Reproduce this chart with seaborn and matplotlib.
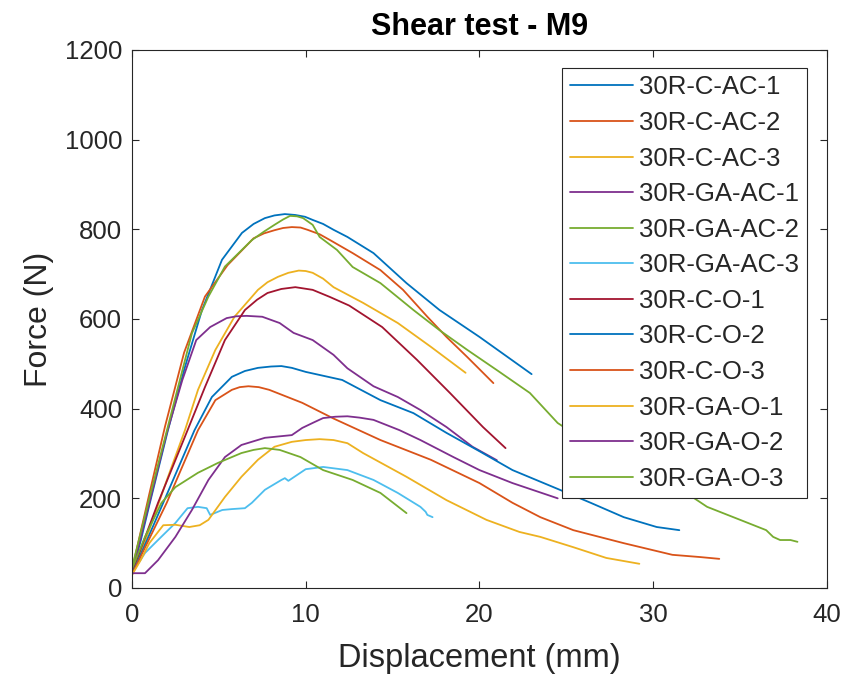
import matplotlib
matplotlib.use("Agg")
import matplotlib.pyplot as plt
import pandas as pd
import seaborn as sns

# Sample names in plotting order
series_names = [
    "30R-C-AC-1", "30R-C-AC-2", "30R-C-AC-3",
    "30R-GA-AC-1", "30R-GA-AC-2", "30R-GA-AC-3",
    "30R-C-O-1", "30R-C-O-2", "30R-C-O-3",
    "30R-GA-O-1", "30R-GA-O-2", "30R-GA-O-3",
]

# Displacement (mm) / force (N) for each specimen
x_c_ac_1 = [0, 0.5, 1.0, 2.07, 3.05, 4.03, 5.18, 6.33, 7.0, 7.65, 8.2, 8.8, 9.4, 9.96, 10.4, 11.0, 11.6, 12.4, 13.9, 15.8, 17.7, 20.0, 23.0]
f_c_ac_1 = [35, 105, 185, 352, 493, 620, 732, 792, 812, 825, 831, 834, 832, 828, 821, 812, 799, 783, 747, 680, 620, 560, 477]

x_c_ac_2 = [0, 1.0, 1.9, 3.0, 4.2, 5.5, 7.0, 7.6, 8.2, 8.7, 9.2, 9.7, 10.1, 10.8, 11.4, 12.7, 14.3, 15.6, 17.0, 18.1, 19.3, 20.8]
f_c_ac_2 = [40, 210, 360, 525, 650, 720, 780, 791, 798, 803, 805, 804, 799, 789, 776, 747, 709, 665, 605, 560, 515, 457]

x_c_ac_3 = [0, 1.0, 2.0, 3.05, 3.8, 4.8, 5.9, 7.25, 7.8, 8.4, 9.0, 9.6, 10.0, 10.4, 11.0, 11.6, 13.3, 15.3, 17.2, 19.2]
f_c_ac_3 = [30, 130, 240, 352, 442, 531, 605, 665, 682, 694, 703, 708, 707, 703, 690, 671, 636, 591, 538, 480]

x_ga_ac_1 = [0, 1.0, 2.0, 2.9, 3.7, 4.5, 5.45, 6.0, 6.6, 7.5, 8.5, 9.3, 10.4, 11.6, 12.4, 13.9, 15.3, 16.6, 18.1, 19.6, 21.0]
f_ga_ac_1 = [35, 190, 345, 464, 553, 582, 602, 606, 607, 605, 591, 569, 553, 520, 490, 450, 426, 397, 359, 315, 285]

x_ga_ac_2 = [0, 1.0, 2.0, 3.45, 4.4, 5.35, 6.9, 7.6, 8.2, 8.7, 9.1, 9.5, 9.85, 10.4, 10.8, 11.8, 12.7, 14.3, 16.2, 17.7, 19.3,
             21.0, 22.9, 24.5, 28.0, 31.9, 33.1, 35.0, 36.5, 36.9, 37.3, 37.9, 38.3]
f_ga_ac_2 = [45, 200, 350, 568, 650, 717, 776, 795, 810, 822, 830, 829, 825, 810, 783, 754, 716, 680, 620, 575, 531,
             486, 435, 368, 280, 212, 181, 152, 129, 114, 107, 107, 103]

x_ga_ac_3 = [0, 0.75, 1.5, 2.5, 3.2, 3.8, 4.3, 4.5, 5.2, 5.75, 6.5, 6.9, 7.65, 8.6, 8.8, 9.0, 10.0, 11.0,
             12.4, 13.9, 15.3, 16.6, 16.9, 17.0, 17.3]
f_ga_ac_3 = [33, 78, 107, 145, 178, 181, 178, 163, 174, 176, 178, 190, 219, 241, 245, 239, 265, 270,
             263, 241, 212, 181, 170, 163, 158]

x_c_o_1 = [0, 1.5, 3.2, 4.2, 5.35, 6.5, 7.2, 7.8, 8.6, 9.4, 10.4, 11.4, 12.5, 14.4, 16.4, 18.3, 20.2, 21.5]
f_c_o_1 = [35, 190, 352, 448, 553, 620, 643, 658, 667, 671, 665, 649, 630, 582, 509, 435, 359, 312]

x_c_o_2 = [0, 1.8, 3.6, 4.6, 5.75, 6.5, 7.25, 8.0, 8.6, 9.2, 10.0, 12.1, 14.3, 16.2, 18.1, 20.0, 21.9, 24.5, 26.4, 28.3, 30.2, 31.5]
f_c_o_2 = [30, 190, 352, 426, 471, 484, 491, 494, 495, 491, 482, 464, 419, 390, 346, 305, 263, 221, 190, 158, 136, 129]

x_c_o_3 = [0, 2.0, 3.8, 4.8, 5.75, 6.2, 6.7, 7.3, 7.9, 9.8, 11.6, 14.3, 17.2, 20.0, 21.9, 23.5, 25.4, 28.3, 31.1, 32.7, 33.8]
f_c_o_3 = [30, 190, 352, 419, 442, 448, 450, 448, 442, 413, 378, 330, 286, 234, 190, 158, 129, 100, 74, 69, 65]

x_ga_o_1 = [0, 0.5, 1.0, 1.8, 2.5, 3.3, 3.9, 4.4, 5.35, 6.3, 7.25, 8.2, 9.2, 10.0, 10.8, 11.6, 12.4, 13.3, 15.8,
            18.1, 20.4, 22.3, 23.5, 25.4, 27.3, 29.2]
f_ga_o_1 = [29, 62, 100, 140, 141, 136, 140, 152, 203, 248, 286, 315, 326, 330, 332, 330, 323, 301, 248,
            196, 152, 125, 114, 91, 67, 54]

x_ga_o_2 = [0, 0.75, 1.5, 2.5, 3.45, 4.4, 5.35, 6.3, 7.65, 9.2, 9.8, 10.5, 11.0, 11.7, 12.4, 13.1, 13.9, 15.4, 16.6,
            18.5, 20.0, 21.9, 24.5]
f_ga_o_2 = [33, 33, 62, 114, 174, 241, 292, 319, 335, 341, 357, 370, 379, 382, 383, 380, 375, 352, 330,
            292, 263, 234, 200]

x_ga_o_3 = [0, 0.75, 1.7, 2.5, 3.8, 4.95, 6.3, 7.0, 7.65, 8.5, 9.7, 11.0, 12.7, 14.3, 15.8]
f_ga_o_3 = [42, 114, 190, 225, 257, 279, 301, 308, 312, 308, 292, 263, 241, 212, 167]

all_x = [x_c_ac_1, x_c_ac_2, x_c_ac_3, x_ga_ac_1, x_ga_ac_2, x_ga_ac_3,
         x_c_o_1, x_c_o_2, x_c_o_3, x_ga_o_1, x_ga_o_2, x_ga_o_3]
all_f = [f_c_ac_1, f_c_ac_2, f_c_ac_3, f_ga_ac_1, f_ga_ac_2, f_ga_ac_3,
         f_c_o_1, f_c_o_2, f_c_o_3, f_ga_o_1, f_ga_o_2, f_ga_o_3]

# MATLAB default line colour order (cycles after seven)
matlab_colors = ["#0072BD", "#D95319", "#EDB120", "#7E2F8E", "#77AC30", "#4DBEEE", "#A2142F"]
palette = {name: matlab_colors[i % 7] for i, name in enumerate(series_names)}

frames = []
for name, xs, fs in zip(series_names, all_x, all_f):
    frames.append(pd.DataFrame({"sample": name, "disp": xs, "force": fs}))
df = pd.concat(frames, ignore_index=True)

sns.set_style("ticks")
plt.rcParams["font.family"] = ["Liberation Sans", "DejaVu Sans"]
text_color = "#262626"

fig = plt.figure(figsize=(8.47, 6.83), dpi=100)
ax = fig.add_axes([0.1558, 0.1391, 0.8206, 0.7877])

sns.lineplot(data=df, x="disp", y="force", hue="sample", hue_order=series_names,
             palette=palette, estimator=None, sort=False, linewidth=1.3, ax=ax)

ax.set_xlim(0, 40)
ax.set_ylim(0, 1200)
ax.set_xticks([0, 10, 20, 30, 40])
ax.set_yticks(range(0, 1201, 200))
ax.tick_params(direction="in", top=True, right=True, length=5, width=0.8,
               colors=text_color, labelsize=18.5)
ax.tick_params(axis="x", pad=11)
ax.tick_params(axis="y", pad=7)
for sp in ax.spines.values():
    sp.set_visible(True)
    sp.set_color(text_color)
    sp.set_linewidth(0.8)

ax.set_xlabel("Displacement (mm)", fontsize=23.5, color=text_color, labelpad=11)
ax.set_ylabel("Force (N)", fontsize=23, color=text_color, labelpad=8)
ax.set_title("Shear test - M9", fontsize=22, fontweight="bold", color="black", pad=11)

handles, labels = ax.get_legend_handles_labels()
leg = ax.legend(handles, labels, loc="upper right", bbox_to_anchor=(0.971, 0.967),
                borderaxespad=0, fontsize=18.5, frameon=True, fancybox=False,
                framealpha=1, edgecolor=text_color, handlelength=2.45,
                handletextpad=0.25, labelspacing=0.45, borderpad=0.3)
leg.get_frame().set_linewidth(0.8)
for line in leg.get_lines():
    line.set_linewidth(1.3)

fig.savefig("out.png", dpi=100, facecolor="white")
